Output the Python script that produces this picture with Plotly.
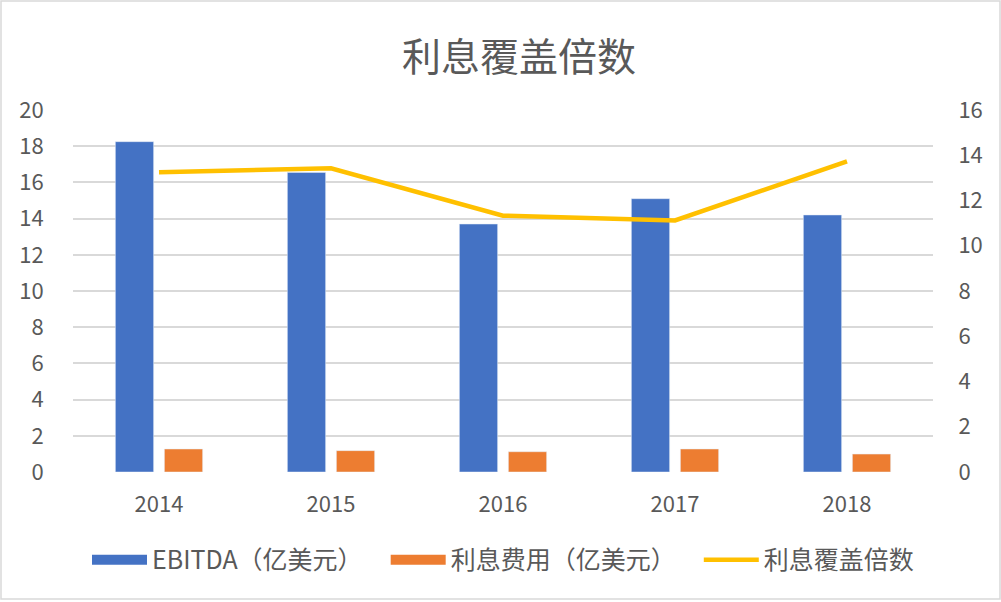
import plotly.graph_objects as go

years = ["2014", "2015", "2016", "2017", "2018"]
ebitda = [18.25, 16.55, 13.7, 15.1, 14.2]          # 亿美元
interest = [1.27, 1.18, 1.12, 1.27, 0.99]          # 亿美元
coverage = [13.25, 13.42, 11.33, 11.12, 13.73]     # 倍

name_ebitda = "EBITDA（亿美元）"
name_interest = "利息费用（亿美元）"
name_cov = "利息覆盖倍数"

BLUE = "#4472C4"
ORANGE = "#ED7D31"
YELLOW = "#FFC000"
TXT = "#595959"
GRID = "#D9D9D9"
FONT = "Noto Sans CJK SC"
PAD = "\u3000\u00a0"   # extra spacing between legend items

fig = go.Figure()
fig.add_trace(go.Bar(x=years, y=ebitda, name=name_ebitda, marker_color=BLUE,
                     showlegend=False, legendgroup="a"))
fig.add_trace(go.Bar(x=years, y=interest, name=name_interest, marker_color=ORANGE,
                     showlegend=False, legendgroup="b"))
fig.add_trace(go.Scatter(x=years, y=coverage, name=name_cov, mode="lines",
                         line=dict(color=YELLOW, width=4.5), yaxis="y2",
                         showlegend=False, legendgroup="c"))
# legend entries (wide swatches like the original)
fig.add_trace(go.Scatter(x=[None], y=[None], mode="lines", name=name_ebitda + PAD,
                         line=dict(color=BLUE, width=10), legendgroup="a"))
fig.add_trace(go.Scatter(x=[None], y=[None], mode="lines", name=name_interest + PAD,
                         line=dict(color=ORANGE, width=10), legendgroup="b"))
fig.add_trace(go.Scatter(x=[None], y=[None], mode="lines", name=name_cov,
                         line=dict(color=YELLOW, width=4.5), legendgroup="c"))

fig.update_layout(
    width=1001, height=602,
    margin=dict(l=73, r=68, t=110, b=130),
    paper_bgcolor="white", plot_bgcolor="white",
    font=dict(family=FONT, color=TXT, size=22),
    title=dict(text=name_cov, x=0.5185, xanchor="center", y=0.905, yanchor="middle",
               font=dict(size=39, color=TXT, family=FONT)),
    barmode="group", bargap=0.43, bargroupgap=0.22,
    xaxis=dict(type="category", showgrid=False, showline=False, zeroline=False,
               ticks="outside", ticklen=13, tickcolor="rgba(0,0,0,0)",
               tickfont=dict(size=22, color=TXT)),
    yaxis=dict(range=[0, 20], dtick=2, showgrid=True, gridcolor=GRID, gridwidth=1.5,
               zeroline=False, showline=False,
               ticks="outside", ticklen=24, tickcolor="rgba(0,0,0,0)",
               tickfont=dict(size=22, color=TXT)),
    yaxis2=dict(range=[0, 16], dtick=2, overlaying="y", side="right", showgrid=False,
                zeroline=False, showline=False,
                ticks="outside", ticklen=20, tickcolor="rgba(0,0,0,0)",
                tickfont=dict(size=22, color=TXT)),
    legend=dict(orientation="h", x=0.5, xanchor="center", y=-0.243, yanchor="middle",
                font=dict(size=25, color=TXT, family=FONT), itemwidth=55,
                bgcolor="rgba(0,0,0,0)"),
    shapes=[dict(type="rect", xref="paper", yref="paper",
                 x0=-72/860, x1=1 + 67/860, y0=-127/362, y1=1 + 109/362,
                 line=dict(color="#D9D9D9", width=1.5), fillcolor="rgba(0,0,0,0)",
                 layer="below")],
)

fig.write_html("out.html")
